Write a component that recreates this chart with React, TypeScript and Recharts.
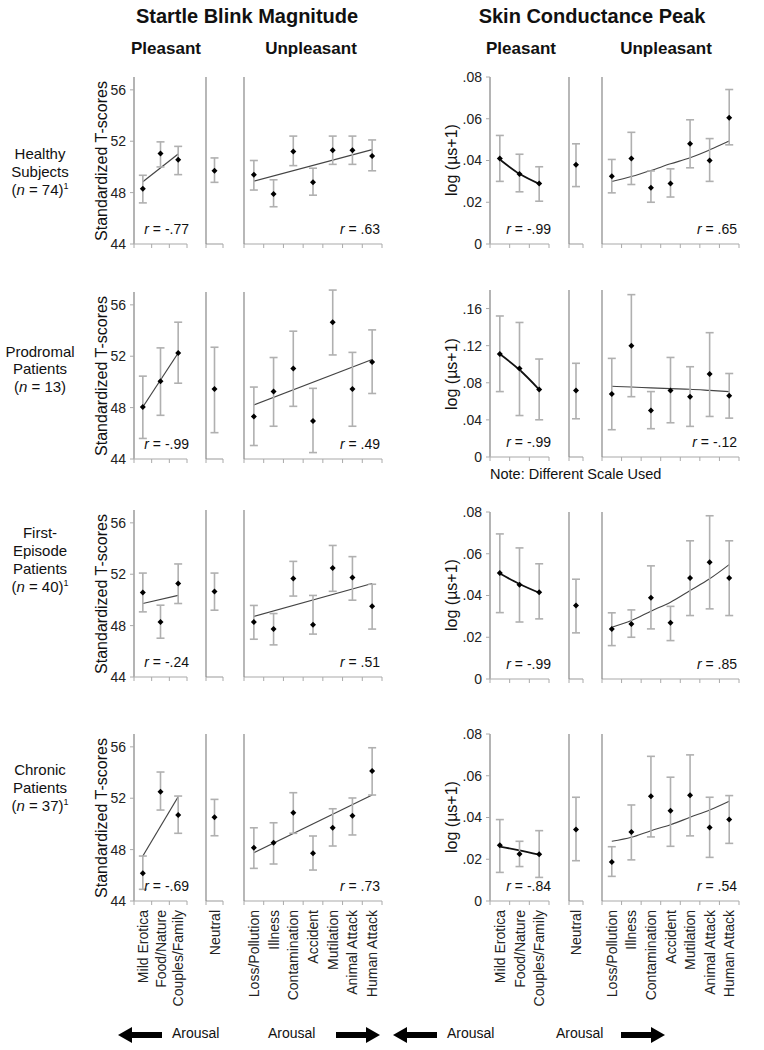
import React from 'react';
import { ComposedChart, Line, XAxis, YAxis, ErrorBar } from 'recharts';

const PLEASANT = ['Mild Erotica', 'Food/Nature', 'Couples/Family'];
const NEUTRAL = ['Neutral'];
const UNPLEASANT = ['Loss/Pollution', 'Illness', 'Contamination', 'Accident', 'Mutilation', 'Animal Attack', 'Human Attack'];

// order in every array: 3 pleasant, neutral, 7 unpleasant
const healthyBlinkMean = [48.3, 51.05, 50.55, 49.7, 49.4, 47.9, 51.2, 48.8, 51.3, 51.3, 50.85];
const healthyBlinkLow = [47.2, 50.0, 49.4, 48.8, 48.2, 46.9, 50.1, 47.8, 50.2, 50.2, 49.7];
const healthyBlinkHigh = [49.35, 51.95, 51.6, 50.7, 50.5, 49.0, 52.4, 49.9, 52.4, 52.4, 52.1];
const healthyBlinkTrend = [48.85, null, 51.0, null, 48.9, null, null, null, null, null, 51.35];

const healthyScrMean = [0.041, 0.0335, 0.029, 0.038, 0.0325, 0.041, 0.027, 0.029, 0.048, 0.04, 0.0605];
const healthyScrLow = [0.03, 0.025, 0.0205, 0.0275, 0.0245, 0.0285, 0.02, 0.0225, 0.0365, 0.03, 0.0475];
const healthyScrHigh = [0.052, 0.043, 0.037, 0.048, 0.0405, 0.0535, 0.035, 0.036, 0.0595, 0.0505, 0.074];
const healthyScrTrend = [0.0405, 0.0336, 0.0288, null, 0.0299, 0.0323, 0.0352, 0.0384, 0.0413, 0.0451, 0.0493];

const prodromalBlinkMean = [48.05, 50.05, 52.25, 49.45, 47.3, 49.25, 51.05, 46.95, 54.65, 49.45, 51.55];
const prodromalBlinkLow = [45.6, 47.4, 49.9, 46.05, 45.05, 46.55, 48.1, 44.5, 52.1, 46.55, 49.1];
const prodromalBlinkHigh = [50.45, 52.65, 54.65, 52.7, 49.6, 51.9, 53.95, 49.5, 57.15, 52.3, 54.05];
const prodromalBlinkTrend = [48.05, null, 52.25, null, 48.2, null, null, null, null, null, 51.75];

const prodromalScrMean = [0.111, 0.0955, 0.0727, 0.0716, 0.068, 0.12, 0.05, 0.0716, 0.065, 0.0895, 0.0659];
const prodromalScrLow = [0.0705, 0.0447, 0.0401, 0.0412, 0.0294, 0.065, 0.0305, 0.0369, 0.033, 0.0437, 0.0419];
const prodromalScrHigh = [0.152, 0.145, 0.1056, 0.101, 0.1063, 0.175, 0.0705, 0.1073, 0.0973, 0.134, 0.09];
const prodromalScrTrend = [0.111, 0.094, 0.0727, null, 0.0762, 0.0755, 0.0745, 0.0737, 0.073, 0.0718, 0.0705];

const firstBlinkMean = [50.57, 48.28, 51.28, 50.65, 48.28, 47.73, 51.67, 48.07, 52.48, 51.75, 49.51];
const firstBlinkLow = [49.07, 47.02, 49.72, 49.2, 46.94, 46.5, 50.3, 47.34, 50.67, 49.98, 47.73];
const firstBlinkHigh = [52.09, 49.59, 52.8, 52.09, 49.57, 48.94, 53.0, 50.35, 54.24, 53.37, 51.22];
const firstBlinkTrend = [49.72, null, 50.35, null, 48.72, null, null, null, null, null, 51.28];

const firstScrMean = [0.0508, 0.0452, 0.0415, 0.0352, 0.024, 0.0264, 0.0389, 0.0269, 0.0484, 0.0559, 0.0484];
const firstScrLow = [0.0318, 0.0273, 0.0288, 0.0221, 0.016, 0.02, 0.024, 0.0184, 0.0304, 0.0336, 0.0304];
const firstScrHigh = [0.0695, 0.0628, 0.0552, 0.0478, 0.0317, 0.0331, 0.0542, 0.0348, 0.0662, 0.0782, 0.0662];
const firstScrTrend = [0.0505, 0.0455, 0.0413, null, 0.0248, 0.028, 0.0325, 0.0368, 0.0424, 0.048, 0.0548];

const chronicBlinkMean = [46.16, 52.5, 50.69, 50.51, 48.15, 48.54, 50.87, 47.71, 49.7, 50.64, 54.12];
const chronicBlinkLow = [44.91, 51.08, 49.27, 49.08, 46.54, 46.88, 49.27, 46.41, 48.28, 49.14, 52.25];
const chronicBlinkHigh = [47.5, 54.04, 52.17, 51.91, 49.7, 50.09, 52.43, 49.06, 51.18, 52.02, 55.93];
const chronicBlinkTrend = [47.5, null, 52.12, null, 47.76, null, null, null, null, null, 52.25];

const chronicScrMean = [0.0267, 0.0225, 0.0224, 0.0342, 0.0187, 0.0331, 0.0502, 0.0432, 0.0506, 0.0352, 0.039];
const chronicScrLow = [0.0137, 0.0165, 0.0113, 0.0193, 0.0118, 0.0197, 0.0307, 0.0262, 0.0312, 0.0209, 0.0276];
const chronicScrHigh = [0.039, 0.0286, 0.0337, 0.0497, 0.026, 0.046, 0.0693, 0.0593, 0.07, 0.0497, 0.0505];
const chronicScrTrend = [0.026, 0.0243, 0.0222, null, 0.0286, 0.0305, 0.0337, 0.0365, 0.0401, 0.0436, 0.0478];

const blinkTicks = [44, 48, 52, 56];
const scrTicks = [0, 0.02, 0.04, 0.06, 0.08];
const scrWideTicks = [0, 0.04, 0.08, 0.12, 0.16];

const r = [
  ['-.77', '.63', '-.99', '.65'],
  ['-.99', '.49', '-.99', '-.12'],
  ['-.24', '.51', '-.99', '.85'],
  ['-.69', '.73', '-.84', '.54'],
];

const FONT = '"Liberation Sans", Arial, sans-serif';
const PLOT_H = 167;
const PAD_TOP = 10;
const BLINK_TOPS = [77, 292, 510, 734];
const SCR_TOPS = [76.5, 290, 511.5, 733.5];

const fmtScr = (v: number) => (v === 0 ? '0' : v.toFixed(2).replace(/^0/, ''));

const Diamond = (p: any) => {
  const { cx, cy, index } = p;
  if (cx == null || cy == null) return <g key={index} />;
  const s = 3;
  return <polygon key={index} points={`${cx},${cy - s} ${cx + s},${cy} ${cx},${cy + s} ${cx - s},${cy}`} fill="#000" />;
};

function Panel(props: any) {
  const { left, top, w, cats, mean, lo, hi, trend, domain, ticks, showY, labels, curve, trendW, fmt, axisColor } = props;
  const n = cats.length;
  const data = cats.map((c: string, i: number) => ({
    x: i + 0.5,
    mean: mean[i],
    err: [mean[i] - lo[i], hi[i] - mean[i]],
    trend: trend ? trend[i] : null,
  }));
  const yw = showY ? 40 : 2;
  const xh = labels ? 110 : 12;
  const bw = w / n;
  const tickRender = (tp: any) => {
    const { x, y, payload, index } = tp;
    if (!labels || payload.value >= n) return <g key={index} />;
    return (
      <text key={index} transform={`translate(${x + bw / 2},${y + 3}) rotate(-90)`} textAnchor="end" dominantBaseline="central" fontSize={14} fill="#222" fontFamily={FONT}>
        {cats[payload.value]}
      </text>
    );
  };
  return (
    <div style={{ position: 'absolute', left: left - yw - 2, top: top - PAD_TOP }}>
      <ComposedChart width={w + yw + 4} height={PLOT_H + xh + PAD_TOP} data={data} margin={{ top: PAD_TOP, right: 2, bottom: 0, left: 2 }}>
        <XAxis
          type="number"
          dataKey="x"
          domain={[0, n]}
          ticks={Array.from({ length: n + 1 }, (_, i) => i)}
          interval={0}
          allowDataOverflow
          height={xh}
          tickSize={4}
          tickLine={{ stroke: '#aaa' }}
          axisLine={{ stroke: '#aaa', strokeWidth: 1.2 }}
          tick={tickRender}
        />
        <YAxis
          type="number"
          domain={domain}
          ticks={ticks}
          interval={0}
          allowDataOverflow
          width={yw}
          tickSize={showY ? 4 : 0}
          tickMargin={4}
          tick={showY ? { fontSize: 14, fill: '#222', fontFamily: FONT } : (tp: any) => <g key={tp.index} />}
          tickFormatter={fmt}
          tickLine={showY ? { stroke: '#aaa' } : false}
          axisLine={{ stroke: axisColor, strokeWidth: showY ? 2 : 1.2 }}
        />
        {trend && (
          <Line
            dataKey="trend"
            type={curve ? 'monotone' : 'linear'}
            stroke={trendW > 1.4 ? '#111' : '#444'}
            strokeWidth={trendW}
            dot={false}
            connectNulls
            isAnimationActive={false}
          />
        )}
        <Line dataKey="mean" stroke="none" strokeWidth={0} dot={Diamond} activeDot={false} isAnimationActive={false}>
          <ErrorBar dataKey="err" width={4} stroke="#b0b0b0" strokeWidth={1.6} />
        </Line>
      </ComposedChart>
    </div>
  );
}

const ROWS = [
  { name: ['Healthy', 'Subjects', '(n = 74)'], sup: true, centers: [154, 172, 190],
    b: [healthyBlinkMean, healthyBlinkLow, healthyBlinkHigh, healthyBlinkTrend],
    s: [healthyScrMean, healthyScrLow, healthyScrHigh, healthyScrTrend], scrMax: 0.08 },
  { name: ['Prodromal', 'Patients', '(n = 13)'], sup: false, centers: [352, 369, 387],
    b: [prodromalBlinkMean, prodromalBlinkLow, prodromalBlinkHigh, prodromalBlinkTrend],
    s: [prodromalScrMean, prodromalScrLow, prodromalScrHigh, prodromalScrTrend], scrMax: 0.18 },
  { name: ['First-', 'Episode', 'Patients', '(n = 40)'], sup: true, centers: [533, 551, 569, 587],
    b: [firstBlinkMean, firstBlinkLow, firstBlinkHigh, firstBlinkTrend],
    s: [firstScrMean, firstScrLow, firstScrHigh, firstScrTrend], scrMax: 0.08 },
  { name: ['Chronic', 'Patients', '(n = 37)'], sup: true, centers: [770, 788, 806],
    b: [chronicBlinkMean, chronicBlinkLow, chronicBlinkHigh, chronicBlinkTrend],
    s: [chronicScrMean, chronicScrLow, chronicScrHigh, chronicScrTrend], scrMax: 0.08 },
];

const sub = (arr: any[], a: number, b: number) => arr.slice(a, b);

const MEASURES = [
  { key: 'b', tops: BLINK_TOPS, pX: 134, pW: 53, nX: 206, nW: 17, uX: 244, uW: 138, curve: false, pTrend: 1.2, uTrend: 1.2 },
  { key: 's', tops: SCR_TOPS, pX: 490, pW: 59, nX: 569, nW: 14, uX: 602, uW: 137, curve: true, pTrend: 1.8, uTrend: 1.1 },
];

const Arrow = ({ dir }: { dir: 'left' | 'right' }) => (
  <svg width={44} height={16} style={{ display: 'block' }}>
    {dir === 'right' ? (
      <polygon points="0,5 30,5 30,0 44,8 30,16 30,11 0,11" fill="#000" />
    ) : (
      <polygon points="44,5 14,5 14,0 0,8 14,16 14,11 44,11" fill="#000" />
    )}
  </svg>
);

const abs = (left: number, top: number, extra: any = {}) => ({ position: 'absolute' as const, left, top, ...extra });

export default function App() {
  return (
    <div style={{ position: 'absolute', left: 0, top: 0, width: 764, height: 1050, background: '#fff', fontFamily: FONT, color: '#111' }}>
      <div style={abs(97, 5, { width: 300, textAlign: 'center', fontSize: 20, fontWeight: 700 })}>Startle Blink Magnitude</div>
      <div style={abs(442, 5, { width: 300, textAlign: 'center', fontSize: 20, fontWeight: 700 })}>Skin Conductance Peak</div>
      <div style={abs(116, 39, { width: 100, textAlign: 'center', fontSize: 17, fontWeight: 700 })}>Pleasant</div>
      <div style={abs(261, 39, { width: 100, textAlign: 'center', fontSize: 17, fontWeight: 700 })}>Unpleasant</div>
      <div style={abs(471, 39, { width: 100, textAlign: 'center', fontSize: 17, fontWeight: 700 })}>Pleasant</div>
      <div style={abs(616, 39, { width: 100, textAlign: 'center', fontSize: 17, fontWeight: 700 })}>Unpleasant</div>

      {ROWS.map((row, ri) => (
        <React.Fragment key={ri}>
          {row.name.map((t, li) => (
            <div key={li} style={abs(0, row.centers[li] - 9, { width: 80, textAlign: 'center', fontSize: 15, lineHeight: '18px' })}>
              {t.startsWith('(n') ? (
                <>
                  (<i>n</i>{t.slice(2)}
                  {row.sup && li === row.name.length - 1 ? <sup style={{ fontSize: 9, verticalAlign: 'top', lineHeight: '10px' }}>1</sup> : null}
                </>
              ) : (
                t
              )}
            </div>
          ))}
          {MEASURES.map((m, mi) => {
            const vals: any[] = (row as any)[m.key];
            const top = m.tops[ri];
            const isScr = m.key === 's';
            const domain = isScr ? [0, row.scrMax] : [44, 57];
            const ticks = isScr ? (row.scrMax > 0.1 ? scrWideTicks : scrTicks) : blinkTicks;
            const fmt = isScr ? fmtScr : (v: number) => String(v);
            const labels = ri === 3;
            const common = { top, domain, ticks, fmt, labels, curve: m.curve };
            return (
              <React.Fragment key={mi}>
                <Panel {...common} left={m.pX} w={m.pW} cats={PLEASANT} showY axisColor="#b4b4b4"
                  mean={sub(vals[0], 0, 3)} lo={sub(vals[1], 0, 3)} hi={sub(vals[2], 0, 3)} trend={sub(vals[3], 0, 3)} trendW={m.pTrend} />
                <Panel {...common} left={m.nX} w={m.nW} cats={NEUTRAL} showY={false} axisColor="#888"
                  mean={sub(vals[0], 3, 4)} lo={sub(vals[1], 3, 4)} hi={sub(vals[2], 3, 4)} trend={null} trendW={1} />
                <Panel {...common} left={m.uX} w={m.uW} cats={UNPLEASANT} showY={false} axisColor="#888"
                  mean={sub(vals[0], 4, 11)} lo={sub(vals[1], 4, 11)} hi={sub(vals[2], 4, 11)} trend={sub(vals[3], 4, 11)} trendW={m.uTrend} />
                <div style={abs(m.pX + m.pW - 80, top + PLOT_H - 23, { width: 82, textAlign: 'right', fontSize: 14 })}>
                  <i>r</i> = {r[ri][mi * 2]}
                </div>
                <div style={abs(m.uX + m.uW - 80, top + PLOT_H - 23, { width: 78, textAlign: 'right', fontSize: 14 })}>
                  <i>r</i> = {r[ri][mi * 2 + 1]}
                </div>
              </React.Fragment>
            );
          })}
          <div style={abs(102 - 100, BLINK_TOPS[ri] + PLOT_H / 2 - 10, { width: 200, height: 20, textAlign: 'center', fontSize: 16, lineHeight: '20px', transform: 'rotate(-90deg)' })}>
            Standardized T-scores
          </div>
          <div style={abs(452 - 100, SCR_TOPS[ri] + PLOT_H / 2 - 10, { width: 200, height: 20, textAlign: 'center', fontSize: 16, lineHeight: '20px', transform: 'rotate(-90deg)' })}>
            log (µs+1)
          </div>
        </React.Fragment>
      ))}

      <div style={abs(490, 466, { fontSize: 14.5 })}>Note: Different Scale Used</div>

      <div style={abs(118, 1027)}><Arrow dir="left" /></div>
      <div style={abs(172, 1025, { fontSize: 14 })}>Arousal</div>
      <div style={abs(268, 1025, { fontSize: 14 })}>Arousal</div>
      <div style={abs(336, 1027)}><Arrow dir="right" /></div>

      <div style={abs(393, 1027)}><Arrow dir="left" /></div>
      <div style={abs(447, 1025, { fontSize: 14 })}>Arousal</div>
      <div style={abs(556, 1025, { fontSize: 14 })}>Arousal</div>
      <div style={abs(621, 1027)}><Arrow dir="right" /></div>
    </div>
  );
}
